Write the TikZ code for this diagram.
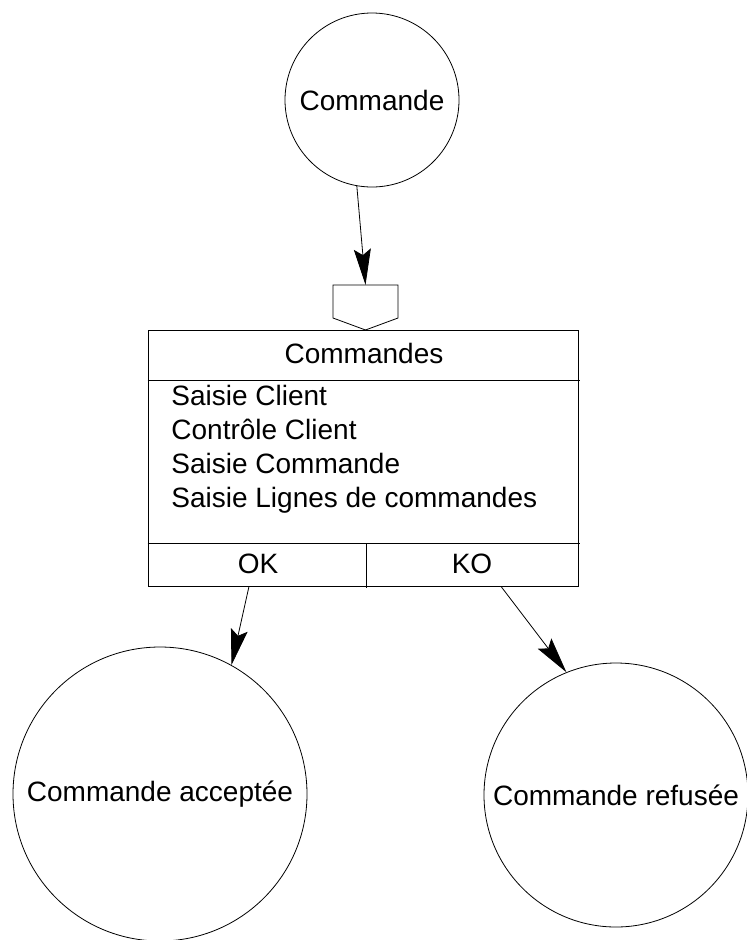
\documentclass[tikz,border=0pt]{standalone}
\usepackage{fontspec}
\setmainfont{Liberation Sans}
\usetikzlibrary{arrows.meta}
\tikzset{
  lbl/.style={font=\fontsize{28pt}{34pt}\selectfont,inner sep=0pt},
  state/.style={lbl,draw,circle,line width=0.8pt},
}
\begin{document}
\begin{tikzpicture}[x=1pt,y=-1pt,line width=0.8pt,
  >={Stealth[length=36pt,width=17pt,inset=6pt]}]
 \useasboundingbox (0,0) rectangle (747,940);
 % states
 \node[state,minimum size=174pt] (cmd) at (372,100) {Commande};
 \node[state,minimum size=294pt] (acc) at (160,794) {Commande acceptée};
 \node[state,minimum size=264pt] (ref) at (616,795) {Commande refusée};
 % operation box
 \node[draw,minimum width=430pt,minimum height=256pt,inner sep=0pt] (box) at (363,458) {};
 \draw ([yshift=-51pt]box.north west) -- ([xshift=2pt,yshift=-51pt]box.north east);
 \draw ([yshift=43pt]box.south west) -- ([xshift=2pt,yshift=43pt]box.south east);
 \draw ([xshift=3pt,yshift=43pt]box.south) -- ([xshift=3pt,yshift=-2pt]box.south);
 \node[lbl,anchor=base] (title) at (364,363) {Commandes};
 \foreach \y/\txt in {405/Saisie Client,439/Contrôle Client,
                      473/Saisie Commande,507/Saisie Lignes de commandes}
   \node[lbl,anchor=base west] at (171,\y) {\txt};
 \node[lbl,anchor=base] (ok) at (258,573) {OK};
 \node[lbl,anchor=base] (ko) at (472,573) {KO};
 % synchronisation
 \coordinate (inlet) at (365.5,285);
 \draw (inlet) ++(-32.5,0) -- ++(65,0) -- ++(0,33) -- ++(-32.5,12)
       -- ++(-32.5,-12) -- cycle;
 % arrows
 \draw[->] (cmd.260) -- (inlet);
 \draw[->] ([xshift=-114pt]box.south) -- (acc.61.5);
 \draw[->] ([xshift=138pt]box.south) -- (ref.112);
\end{tikzpicture}
\end{document}
